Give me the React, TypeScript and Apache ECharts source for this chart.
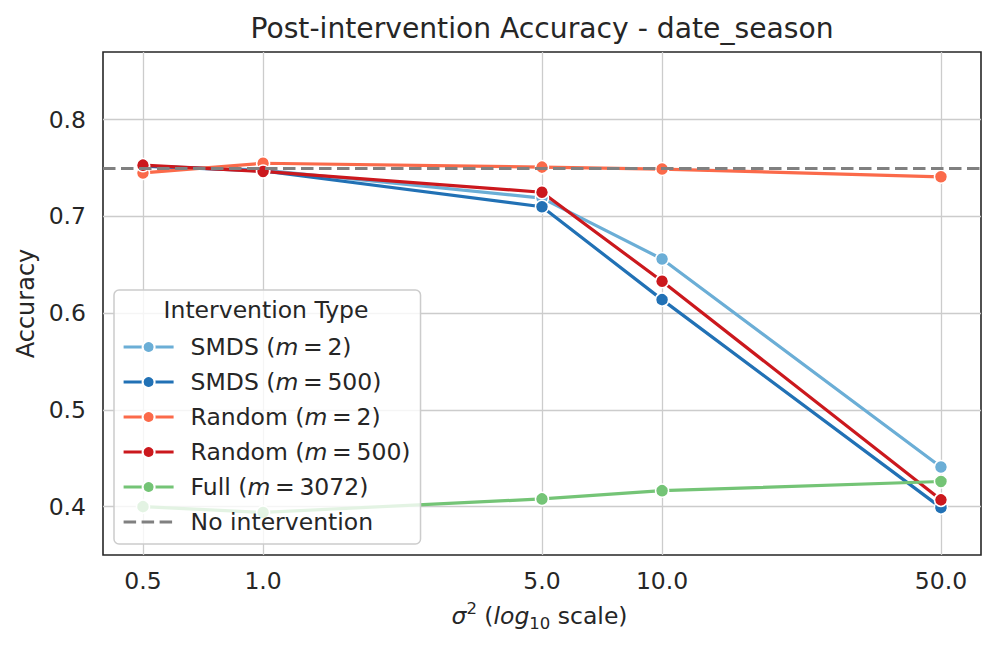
import React, { useEffect, useRef } from "react";
import * as echarts from "echarts";

const sigma2 = [0.5, 1.0, 5.0, 10.0, 50.0];
const smdsM2 = [0.752, 0.748, 0.719, 0.656, 0.441];
const smdsM500 = [0.752, 0.747, 0.71, 0.614, 0.399];
const randomM2 = [0.745, 0.755, 0.751, 0.749, 0.741];
const randomM500 = [0.753, 0.7465, 0.725, 0.633, 0.407];
const fullM3072 = [0.4, 0.394, 0.408, 0.4165, 0.426];
const noIntervention = 0.7515;
const yTicks = [0.4, 0.5, 0.6, 0.7, 0.8];
const xTicks = [0.5, 1.0, 5.0, 10.0, 50.0];

const seriesDefs = [
  { name: "SMDS (m = 2)", values: smdsM2, color: "#6baed6" },
  { name: "SMDS (m = 500)", values: smdsM500, color: "#2171b5" },
  { name: "Random (m = 2)", values: randomM2, color: "#fb6a4a" },
  { name: "Random (m = 500)", values: randomM500, color: "#cb181d" },
  { name: "Full (m = 3072)", values: fullM3072, color: "#74c476" },
];

const FONT = "DejaVu Sans";
const TXT = "#262626";
const FS = 23.5;

export default function App() {
  const ref = useRef<HTMLDivElement>(null);
  useEffect(() => {
    document.body.style.margin = "0";
    const chart = echarts.init(ref.current!, null, { renderer: "svg" });
    const lineSeries: any[] = seriesDefs.map((s) => ({
      name: s.name,
      type: "line",
      data: sigma2.map((x, i) => [x, s.values[i]]),
      symbol: "circle",
      symbolSize: 13,
      showSymbol: true,
      itemStyle: { color: s.color, borderColor: "#ffffff", borderWidth: 1.5 },
      lineStyle: { color: s.color, width: 3.2 },
      emphasis: { disabled: true },
    }));
    lineSeries.push({
      name: "No intervention",
      type: "line",
      data: [],
      symbol: "none",
      itemStyle: { color: "#808080" },
      lineStyle: { color: "#808080", width: 3.2, type: [12.5, 5.5] },
      markLine: {
        silent: true,
        symbol: "none",
        label: { show: false },
        lineStyle: { color: "#808080", width: 3.2, type: [12.5, 5.5] },
        data: [{ yAxis: noIntervention }],
      },
    });
    chart.setOption({
      animation: false,
      textStyle: { fontFamily: FONT, color: TXT },
      grid: {
        left: 103,
        top: 52,
        right: 17,
        bottom: 96,
        show: true,
        borderColor: TXT,
        borderWidth: 1.6,
        backgroundColor: "#ffffff",
      },
      xAxis: {
        type: "log",
        min: 0.397,
        max: 63,
        axisLine: { show: false },
        axisTick: { show: false, customValues: xTicks },
        splitLine: { show: true, lineStyle: { color: "#cccccc", width: 1.3 } },
        axisLabel: {
          customValues: xTicks,
          formatter: (v: number) => v.toFixed(1),
          fontSize: FS,
          color: TXT,
          fontFamily: FONT,
          margin: 14,
        },
        name: "{i|σ}{sup|2}{n| (}{i|log}{sub|10}{n| scale)}",
        nameLocation: "middle",
        nameGap: 45,
        nameTextStyle: {
          padding: [0, 5, 0, 0],
          rich: {
            n: { fontSize: FS, fontFamily: FONT, color: TXT, lineHeight: 32 },
            i: { fontSize: FS, fontFamily: FONT, color: TXT, fontStyle: "italic", lineHeight: 32 },
            sup: { fontSize: 16.5, fontFamily: FONT, color: TXT, lineHeight: 16, verticalAlign: "top" },
            sub: { fontSize: 16.5, fontFamily: FONT, color: TXT, lineHeight: 16, verticalAlign: "bottom" },
          },
        },
      },
      yAxis: {
        type: "value",
        min: 0.35,
        max: 0.87,
        axisLine: { show: false },
        axisTick: { show: false, customValues: yTicks },
        splitLine: { show: true, lineStyle: { color: "#cccccc", width: 1.3 } },
        axisLabel: {
          customValues: yTicks,
          formatter: (v: number) => v.toFixed(1),
          fontSize: FS,
          color: TXT,
          fontFamily: FONT,
          margin: 17,
        },
        name: "Accuracy",
        nameLocation: "middle",
        nameGap: 56,
        nameTextStyle: { fontSize: 24, color: TXT, fontFamily: FONT },
      },
      legend: {
        orient: "vertical",
        left: 114,
        top: 290,
        padding: [44, 10, 9, 8],
        itemWidth: 50,
        itemHeight: 15,
        itemGap: 9,
        backgroundColor: "rgba(255,255,255,0.8)",
        borderColor: "#cccccc",
        borderWidth: 1.5,
        borderRadius: 5,
        lineStyle: { width: 3.2 },
        data: [
          ...seriesDefs.map((s) => s.name),
          { name: "No intervention", itemStyle: { opacity: 0 } },
        ],
        formatter: (name: string) => {
          const m = name.match(/^(.*)\(m = (\d+)\)$/);
          if (m) return `{n|${m[1]}(}{i|m}{n|\u2009=\u2009${m[2]})}`;
          return `{n|${name}}`;
        },
        textStyle: {
          padding: [0, 0, 0, 12],
          lineHeight: 26,
          rich: {
            n: { fontSize: FS, fontFamily: FONT, color: TXT, lineHeight: 26 },
            i: { fontSize: FS, fontFamily: FONT, color: TXT, fontStyle: "italic", lineHeight: 26 },
          },
        },
      },
      graphic: [
        {
          type: "text",
          x: 542,
          y: 28,
          z: 100,
          style: {
            text: "Post-intervention Accuracy - date_season",
            fontSize: 28.2,
            fontFamily: FONT,
            fill: TXT,
            textAlign: "center",
            textVerticalAlign: "middle",
          },
        },
        {
          type: "text",
          x: 266,
          y: 310,
          z: 100,
          style: {
            text: "Intervention Type",
            fontSize: FS,
            fontFamily: FONT,
            fill: TXT,
            textAlign: "center",
            textVerticalAlign: "middle",
          },
        },
      ],
      series: lineSeries,
    });
    return () => chart.dispose();
  }, []);
  return <div ref={ref} style={{ width: 998, height: 651 }} />;
}
